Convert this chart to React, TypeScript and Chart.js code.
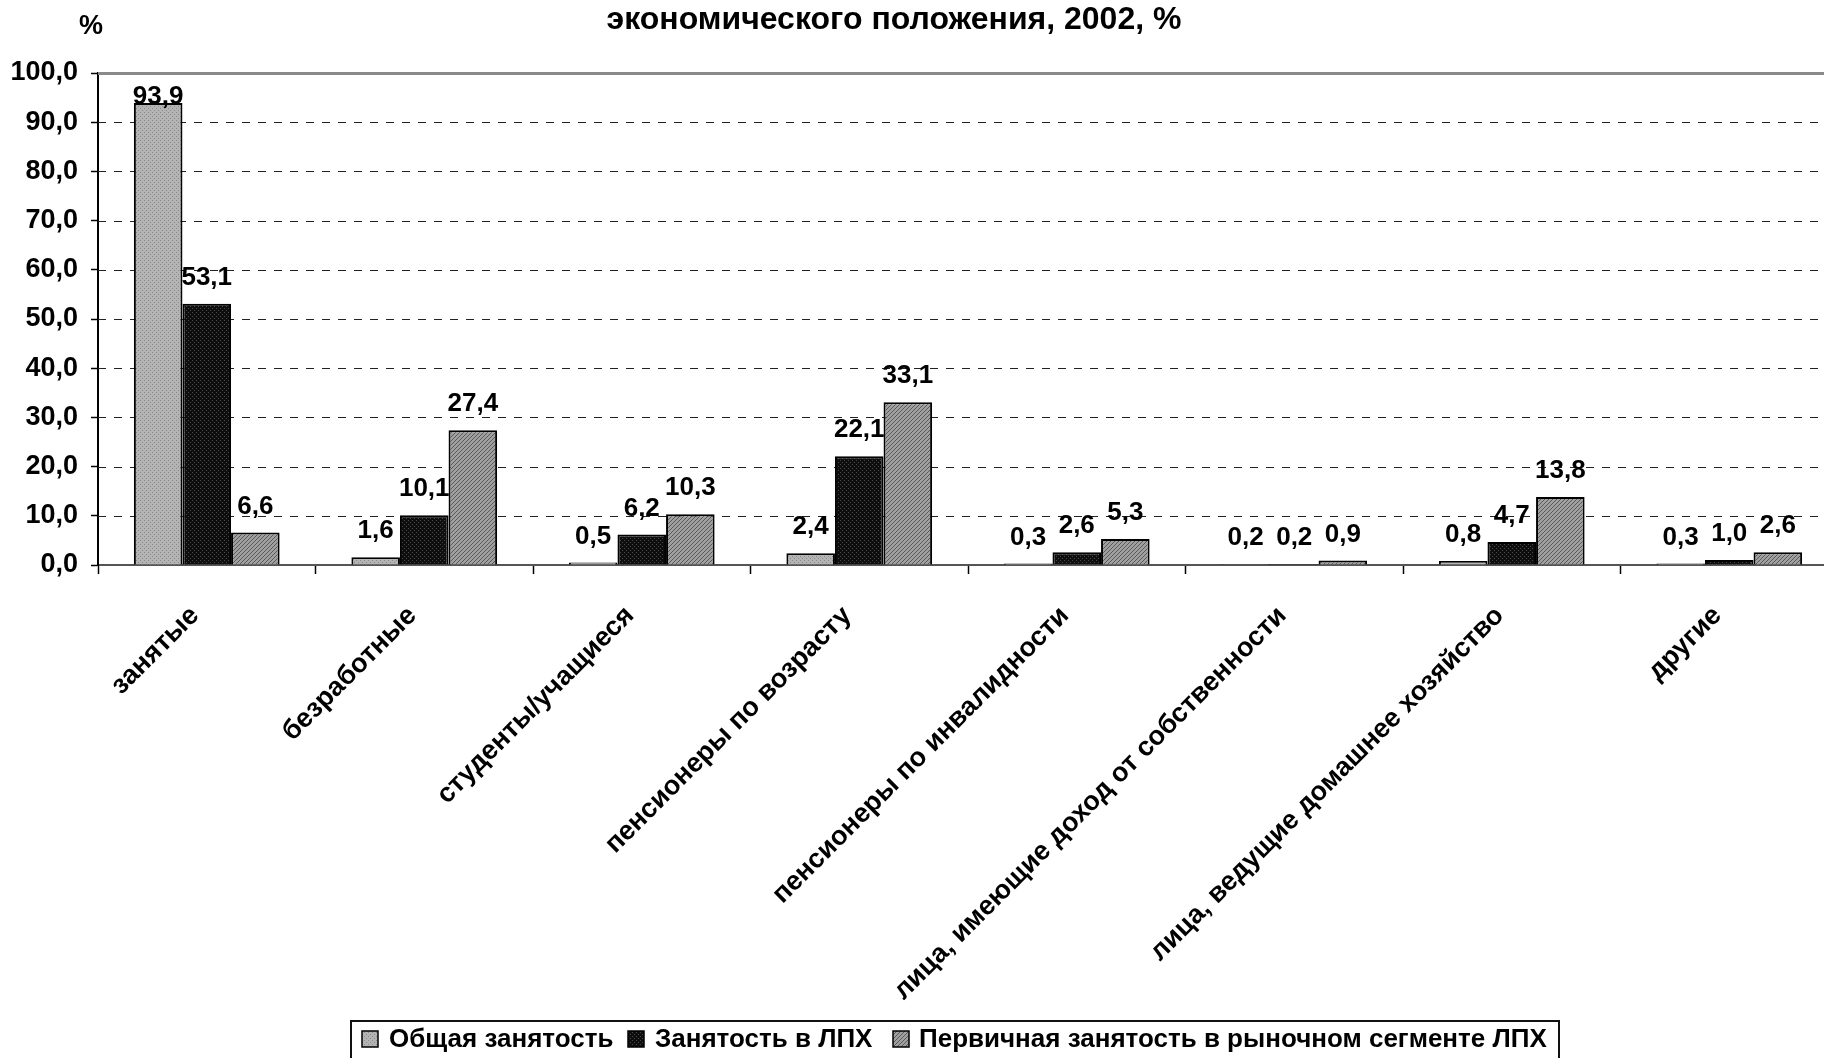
import React, { useEffect, useRef } from "react";
import { Chart, registerables } from "chart.js";

Chart.register(...registerables);

const categories = [
  "занятые",
  "безработные",
  "студенты/учащиеся",
  "пенсионеры по возрасту",
  "пенсионеры по инвалидности",
  "лица, имеющие доход от собственности",
  "лица, ведущие домашнее хозяйство",
  "другие",
];
const seriesNames = [
  "Общая занятость",
  "Занятость в ЛПХ",
  "Первичная занятость в рыночном сегменте ЛПХ",
];
const totalEmployment = [93.9, 1.6, 0.5, 2.4, 0.3, 0.2, 0.8, 0.3];
const lphEmployment = [53.1, 10.1, 6.2, 22.1, 2.6, 0.2, 4.7, 1.0];
const marketEmployment = [6.6, 27.4, 10.3, 33.1, 5.3, 0.9, 13.8, 2.6];
const yMin = 0;
const yMax = 100;
const yStep = 10;
const titleText = "экономического положения, 2002, %";
const unitText = "%";

const FONT = "'Liberation Sans', Arial, sans-serif";
const CANVAS_W = 1838;
const CANVAS_H = 1058;

function fmt(v: number) {
  return v.toFixed(1).replace(".", ",");
}

function makePattern(kind: number): CanvasPattern | string {
  const c = document.createElement("canvas");
  c.width = 4;
  c.height = 4;
  const g = c.getContext("2d");
  if (!g) return "#999";
  if (kind === 0) {
    g.fillStyle = "#b4b4b4";
    g.fillRect(0, 0, 4, 4);
    g.fillStyle = "#888888";
    g.fillRect(0, 0, 1, 1);
    g.fillRect(2, 2, 1, 1);
  } else if (kind === 1) {
    g.fillStyle = "#0e0e0e";
    g.fillRect(0, 0, 4, 4);
    g.fillStyle = "#4a4a4a";
    g.fillRect(0, 0, 1, 1);
    g.fillRect(2, 2, 1, 1);
  } else {
    g.fillStyle = "#a0a0a0";
    g.fillRect(0, 0, 4, 4);
    g.fillStyle = "#5a5a5a";
    g.fillRect(0, 3, 1, 1);
    g.fillRect(1, 2, 1, 1);
    g.fillRect(2, 1, 1, 1);
    g.fillRect(3, 0, 1, 1);
  }
  const p = g.createPattern(c, "repeat");
  return p || "#999";
}

export default function App() {
  const ref = useRef<HTMLCanvasElement | null>(null);

  useEffect(() => {
    const canvas = ref.current;
    if (!canvas) return;
    const fills = [makePattern(0), makePattern(1), makePattern(2)];

    const customPlugin = {
      id: "custom",
      beforeDatasetsDraw(chart: any) {
        const ctx = chart.ctx;
        const ys = chart.scales.y;
        const area = chart.chartArea;
        ctx.save();
        ys.ticks.forEach((t: any) => {
          const y = Math.round(ys.getPixelForValue(t.value)) + 0.5;
          if (t.value === yMin) return;
          ctx.beginPath();
          if (t.value === yMax) {
            ctx.setLineDash([]);
            ctx.strokeStyle = "#8a8a8a";
            ctx.lineWidth = 3;
          } else {
            ctx.setLineDash([8, 8]);
            ctx.strokeStyle = "#222";
            ctx.lineWidth = 1;
          }
          ctx.moveTo(area.left, y);
          ctx.lineTo(area.right, y);
          ctx.stroke();
        });
        ctx.restore();
      },
      afterDatasetsDraw(chart: any) {
        const ctx = chart.ctx;
        const area = chart.chartArea;
        ctx.save();
        ctx.font = `bold 26px ${FONT}`;
        ctx.fillStyle = "#000";
        ctx.textAlign = "center";
        ctx.textBaseline = "bottom";
        chart.data.datasets.forEach((ds: any, di: number) => {
          const meta = chart.getDatasetMeta(di);
          meta.data.forEach((bar: any, i: number) => {
            const v = ds.data[i];
            const y = Math.max(bar.y - 13, area.top + 37);
            ctx.fillText(fmt(v), bar.x, y);
          });
        });
        ctx.restore();
      },
      afterDraw(chart: any) {
        const ctx = chart.ctx;
        ctx.save();
        ctx.fillStyle = "#000";
        ctx.textBaseline = "middle";
        ctx.textAlign = "center";
        ctx.font = `bold 32px ${FONT}`;
        ctx.fillText(titleText, 894, 20);
        ctx.font = `bold 27px ${FONT}`;
        ctx.fillText(unitText, 91, 27);

        // legend
        const boxL = 351;
        const boxR = 1559;
        const boxT = 1021;
        ctx.strokeStyle = "#111";
        ctx.lineWidth = 2;
        ctx.strokeRect(boxL, boxT, boxR - boxL, 60);
        const itemBox = [362, 628, 893];
        const itemText = [389, 655, 919];
        ctx.font = `bold 26px ${FONT}`;
        ctx.textAlign = "left";
        seriesNames.forEach((name, i) => {
          ctx.fillStyle = fills[i] as any;
          ctx.fillRect(itemBox[i], 1031, 16, 16);
          ctx.lineWidth = 1.5;
          ctx.strokeStyle = "#000";
          ctx.strokeRect(itemBox[i], 1031, 16, 16);
          ctx.fillStyle = "#000";
          ctx.fillText(name, itemText[i], 1040);
        });
        ctx.restore();
      },
    };

    const mk = (label: string, data: number[], i: number) => ({
      label,
      data,
      backgroundColor: fills[i] as any,
      borderColor: "#000",
      borderWidth: 2,
      borderSkipped: "bottom",
      barPercentage: 1.0,
      categoryPercentage: 0.67,
    });

    const chart = new Chart(canvas, {
      type: "bar",
      data: {
        labels: categories,
        datasets: [
          mk(seriesNames[0], totalEmployment, 0),
          mk(seriesNames[1], lphEmployment, 1),
          mk(seriesNames[2], marketEmployment, 2),
        ],
      },
      options: {
        animation: false,
        responsive: false,
        devicePixelRatio: 1,
        layout: { padding: { top: 73, left: 0, right: 0, bottom: 0 } },
        plugins: {
          legend: { display: false },
          title: { display: false },
          tooltip: { enabled: false },
        },
        scales: {
          x: {
            offset: true,
            grid: {
              display: true,
              offset: true,
              drawOnChartArea: false,
              drawTicks: true,
              tickLength: 9,
              tickColor: "#000",
              tickWidth: 1.5,
            },
            border: { display: true, color: "#555", width: 2 },
            ticks: {
              autoSkip: false,
              maxRotation: 45,
              minRotation: 45,
              padding: 26,
              labelOffset: -12,
              color: "#000",
              font: { family: FONT, size: 27, weight: "bold" },
            },
            afterFit: (s: any) => {
              s.height = CANVAS_H - 565;
            },
          },
          y: {
            min: yMin,
            max: yMax,
            grid: {
              display: true,
              drawOnChartArea: false,
              drawTicks: true,
              tickLength: 7,
              tickColor: "#000",
              tickWidth: 1.5,
            },
            border: { display: true, color: "#000", width: 2 },
            ticks: {
              stepSize: yStep,
              padding: 13,
              color: "#000",
              font: { family: FONT, size: 27, weight: "bold" },
              callback: (v: any) => fmt(Number(v)),
            },
            afterFit: (s: any) => {
              s.width = 98;
            },
          },
        },
      } as any,
      plugins: [customPlugin],
    });

    return () => chart.destroy();
  }, []);

  return (
    <div
      style={{
        position: "absolute",
        left: 0,
        top: 0,
        width: 1824,
        height: CANVAS_H,
        overflow: "hidden",
        background: "#fff",
      }}
    >
      <canvas ref={ref} width={CANVAS_W} height={CANVAS_H} style={{ display: "block" }} />
    </div>
  );
}
